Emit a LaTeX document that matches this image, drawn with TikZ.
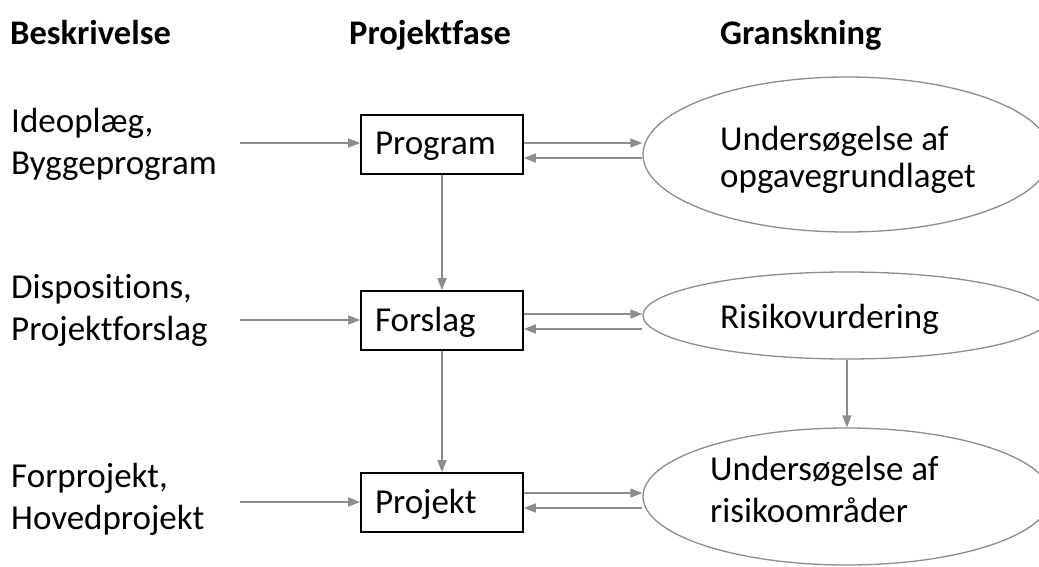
\documentclass[tikz,border=0pt]{standalone}
\usepackage{fontspec}
\setmainfont{Carlito}[Ligatures=NoCommon]
\usetikzlibrary{arrows.meta,shapes.geometric}
\definecolor{linegray}{RGB}{140,140,140}
\tikzset{
    flow/.style={draw=linegray, line width=1.4pt, -{Triangle[length=12pt,width=9pt]}},
    heading/.style={font=\fontsize{34.5}{40}\selectfont\bfseries, inner sep=0pt, anchor=base west},
    source/.style={font=\fontsize{35}{42}\selectfont, align=left, inner sep=0pt, anchor=base west},
    phase/.style={draw, line width=1.6pt, font=\fontsize{35}{42}\selectfont, text width=134pt, align=left,
        text height=24pt, text depth=3pt, inner xsep=14pt, inner ysep=0pt, minimum height=59pt},
    review/.style={draw=linegray, line width=1.3pt, ellipse, inner sep=0pt, minimum width=408pt},
    reviewtext/.style={font=\fontsize{35}{42}\selectfont, align=left, inner sep=0pt, anchor=base west}
}
\begin{document}
\begin{tikzpicture}[x=1pt, y=-1pt]
    \useasboundingbox (0,0) rectangle (1039,567);

    \node[heading] (h-desc) at (10,45) {Beskrivelse};
    \node[heading] (h-phase) at (349,45) {Projektfase};
    \node[heading] (h-review) at (720,45) {Granskning};

    \node[source] (s-prog) at (11,175) {Ideoplæg,\\Byggeprogram};
    \node[source] (s-fors) at (11,340) {Dispositions,\\Projektforslag};
    \node[source] (s-proj) at (11,529) {Forprojekt,\\Hovedprojekt};

    \node[phase] (prog) at (442,144.5) {Program};
    \node[phase] (fors) at (442,320.5) {Forslag};
    \node[phase] (proj) at (442,502.5) {Projekt};

    \node[review, minimum height=155pt] (ell1) at (847,154.5) {};
    \node[review, minimum height=87pt] (ell2) at (847,315.5) {};
    \node[review, minimum height=137pt] (ell3) at (847,496.5) {};
    \node[reviewtext, font=\fontsize{35}{36}\selectfont] (t-ell1) at (720,187) {Undersøgelse af\\opgavegrundlaget};
    \node[reviewtext] (t-ell2) at (720,328) {Risikovurdering};
    \node[reviewtext] (t-ell3) at (710,522) {Undersøgelse af\\risikoområder};

    \foreach \b/\y in {prog/143, fors/320, proj/502} {
        \coordinate (in-\b) at (240,\y);
        \draw[flow] (in-\b) -- (in-\b -| \b.west);
    }
    \foreach \b/\e/\ya/\yb in {prog/ell1/143/158, fors/ell2/314/329, proj/ell3/493/508} {
        \draw[flow] (\b.east |- 0,\ya) -- (\e.west |- 0,\ya);
        \draw[flow] (\e.west |- 0,\yb) -- (\b.east |- 0,\yb);
    }
    \draw[flow] (prog) -- (fors);
    \draw[flow] (fors) -- (proj);
    \draw[flow] (ell2) -- (ell3);
\end{tikzpicture}
\end{document}
